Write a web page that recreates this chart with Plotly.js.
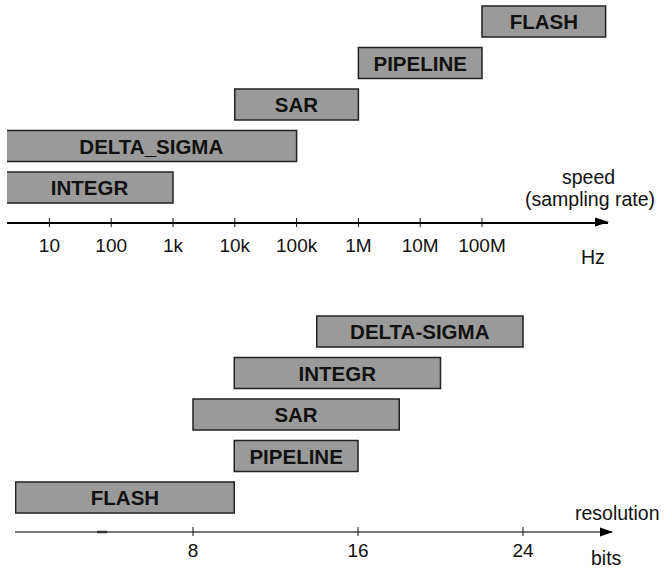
<!DOCTYPE html>
<html>
<head>
<meta charset="utf-8">
<script src="https://cdn.plot.ly/plotly-3.0.1.min.js"></script>
<style>html,body{margin:0;padding:0;background:#fff;}#chart{width:664px;height:569px;}</style>
</head>
<body>
<div id="chart"></div>
<script>
// ---- data ----
// speed (sampling rate, Hz), log scale
const speedCats = ["INTEGR", "DELTA_SIGMA", "SAR", "PIPELINE", "FLASH"];
const speedLow  = [2, 2, 1e4, 1e6, 1e8];
const speedHigh = [1e3, 1e5, 1e6, 1e8, 1e10];
const speedTickVals = [10, 100, 1e3, 1e4, 1e5, 1e6, 1e7, 1e8];
const speedTickText = ["10", "100", "1k", "10k", "100k", "1M", "10M", "100M"];

// resolution (bits), linear scale
const resCats = ["FLASH", "PIPELINE", "SAR", "INTEGR", "DELTA-SIGMA"];
const resLow  = [-0.6, 10, 8, 10, 14];
const resHigh = [10, 16, 18, 20, 24];
const resTickVals = [8, 16, 24];
const resTickText = ["8", "16", "24"];

// ---- layout helpers (pixel -> paper) ----
const W = 664, H = 569;
const PX = x => x / W;
const PY = y => 1 - y / H;

const FONT = "Liberation Sans, Arial, sans-serif";
const NARROW = "Liberation Sans Narrow, Arial Narrow, Liberation Sans, sans-serif";
const barFill = "#9a9a9a";
const barLine = {color: "#222", width: 1.5};

const traces = [
  {
    type: "bar", orientation: "h",
    y: speedCats,
    base: speedLow,
    x: speedHigh.map((h, i) => h - speedLow[i]),
    width: 0.75,
    marker: {color: barFill, line: barLine},
    text: speedCats,
    textposition: "inside", insidetextanchor: "middle",
    constraintext: "none",
    insidetextfont: {family: FONT, size: 20.5, color: "#111", weight: 700},
    xaxis: "x", yaxis: "y", hoverinfo: "skip"
  },
  {
    type: "bar", orientation: "h",
    y: resCats,
    base: resLow,
    x: resHigh.map((h, i) => h - resLow[i]),
    width: 0.75,
    marker: {color: barFill, line: barLine},
    text: resCats,
    textposition: "inside", insidetextanchor: "middle",
    constraintext: "none",
    insidetextfont: {family: FONT, size: 20.5, color: "#111", weight: 700},
    xaxis: "x2", yaxis: "y2", hoverinfo: "skip"
  }
];

// axis geometry
const topAxisY = 222, botAxisY = 532;
const step = 41.5;
const topRow0 = 187.5, botRow0 = 497.5;

const shapes = [];
// tick marks crossing the axis lines
speedTickVals.forEach(v => shapes.push({type: "line", xref: "x", yref: "paper", x0: v, x1: v,
  y0: PY(topAxisY - 4), y1: PY(topAxisY + 5), line: {color: "#111", width: 1}}));
resTickVals.forEach(v => shapes.push({type: "line", xref: "x2", yref: "paper", x0: v, x1: v,
  y0: PY(botAxisY - 5), y1: PY(botAxisY + 4), line: {color: "#111", width: 1}}));
// arrow heads
function arrow(tipX, y, len, half) {
  return {type: "path", xref: "paper", yref: "paper",
    path: `M ${PX(tipX)} ${PY(y)} L ${PX(tipX - len)} ${PY(y - half)} L ${PX(tipX - len)} ${PY(y + half)} Z`,
    fillcolor: "#000", line: {color: "#000", width: 0}};
}
shapes.push(arrow(609, topAxisY, 14, 4.5));
shapes.push(arrow(613, botAxisY, 13, 4.5));
// small dark dash on the lower axis
shapes.push({type: "line", xref: "paper", yref: "paper", x0: PX(97), x1: PX(107),
  y0: PY(botAxisY), y1: PY(botAxisY), line: {color: "#333", width: 2.5}});

const annFont = {family: FONT, size: 19.5, color: "#111"};
const ann = (t, x, y, f, xa) => ({text: t, x: PX(x), y: PY(y), xref: "paper", yref: "paper",
  showarrow: false, xanchor: xa || "center", yanchor: "middle", font: f || annFont});

const layout = {
  width: W, height: H,
  margin: {l: 0, r: 0, t: 0, b: 0, pad: 0},
  paper_bgcolor: "#fff", plot_bgcolor: "rgba(0,0,0,0)",
  showlegend: false,
  xaxis: {
    type: "log",
    domain: [PX(7), PX(608)],
    range: [3 + (7 - 173) / 61.8, 3 + (608 - 173) / 61.8],
    anchor: "free", position: PY(topAxisY),
    showline: true, linecolor: "#000", linewidth: 1.5,
    showgrid: false, zeroline: false, ticks: "",
    tickvals: speedTickVals, ticktext: speedTickText,
    tickfont: {family: FONT, size: 19, color: "#111"},
    ticklabelstandoff: 6
  },
  yaxis: {
    visible: false, type: "category",
    categoryorder: "array", categoryarray: speedCats,
    domain: [0, 1],
    range: [-(H - topRow0) / step, topRow0 / step]
  },
  xaxis2: {
    domain: [PX(15), PX(612)],
    range: [8 + (15 - 193) / 20.625, 8 + (612 - 193) / 20.625],
    anchor: "free", position: PY(botAxisY),
    showline: true, linecolor: "#777", linewidth: 2,
    showgrid: false, zeroline: false, ticks: "",
    tickvals: resTickVals, ticktext: resTickText,
    tickfont: {family: FONT, size: 19, color: "#111"},
    ticklabelstandoff: 1
  },
  yaxis2: {
    visible: false, type: "category",
    categoryorder: "array", categoryarray: resCats,
    domain: [0, 1],
    range: [-(H - botRow0) / step, botRow0 / step]
  },
  shapes: shapes,
  annotations: [
    ann("speed", 588, 177),
    ann("(sampling rate)", 657, 199, {family: NARROW, size: 19.5, color: "#111"}, "right"),
    ann("Hz", 593, 257),
    ann("resolution", 617, 513),
    ann("bits", 606, 558)
  ]
};

Plotly.newPlot("chart", traces, layout, {staticPlot: true, displayModeBar: false});
</script>
</body>
</html>
